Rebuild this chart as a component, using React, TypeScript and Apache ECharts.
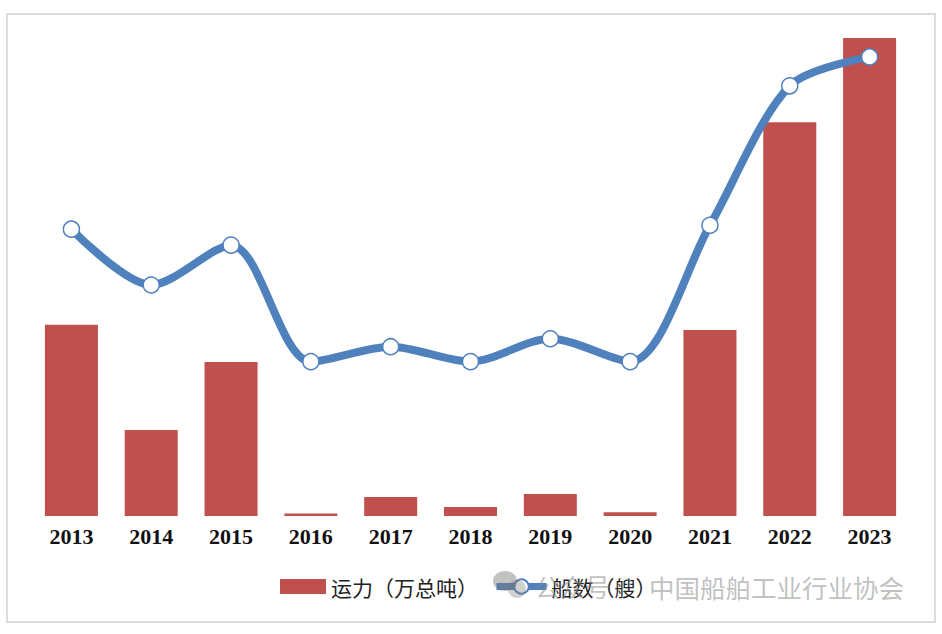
import React, { useEffect, useRef } from "react";
import * as echarts from "echarts";

const years = ["2013", "2014", "2015", "2016", "2017", "2018", "2019", "2020", "2021", "2022", "2023"];
const capacity = [400, 180, 322, 5, 40, 19, 46, 8, 389, 824, 1000];
const ships = [144, 116, 136, 77.5, 85, 77.5, 89, 77.5, 146, 216, 230.5];
const capacityName = "运力（万总吨）";
const shipsName = "船数（艘）";
const watermarkLeft = "公众号";
const watermarkRight = "中国船舶工业行业协会";

const cjk = '"Noto Sans CJK SC", sans-serif';

export default function App() {
  const ref = useRef<HTMLDivElement>(null);
  useEffect(() => {
    const chart = echarts.init(ref.current!, undefined, { renderer: "svg" });
    const legendText = { fontFamily: cjk, fontSize: 21, color: "#222" };
    chart.setOption({
      animation: false,
      backgroundColor: "#fff",
      grid: { left: 31.5, right: 32.5, top: 38, bottom: 118, containLabel: false },
      xAxis: {
        type: "category",
        data: years,
        axisTick: { show: false },
        axisLine: { show: false },
        axisLabel: {
          fontFamily: '"Liberation Serif", serif',
          fontWeight: "bold",
          fontSize: 22,
          color: "#111",
          margin: 9,
          interval: 0,
        },
      },
      yAxis: [
        { type: "value", min: 0, max: 1000, show: false, splitLine: { show: false } },
        { type: "value", min: 0, max: 240, show: false, splitLine: { show: false } },
      ],
      legend: [
        {
          left: 275,
          top: 571,
          itemWidth: 46,
          itemHeight: 15,
          textStyle: legendText,
          data: [{ name: capacityName, icon: "rect" }],
        },
        {
          left: 488,
          top: 571,
          itemWidth: 50,
          itemHeight: 18,
          textStyle: legendText,
          lineStyle: { width: 7 },
          data: [shipsName],
        },
      ],
      series: [
        {
          name: capacityName,
          type: "bar",
          data: capacity,
          barWidth: 53,
          itemStyle: { color: "#c0504d" },
          z: 1,
        },
        {
          name: shipsName,
          type: "line",
          yAxisIndex: 1,
          data: ships,
          smooth: 0.3,
          symbol: "circle",
          symbolSize: 16,
          lineStyle: { color: "#4f81bd", width: 8 },
          itemStyle: { color: "#fff", borderColor: "#4f81bd", borderWidth: 1.5 },
          z: 2,
        },
      ],
      graphic: [
        {
          type: "rect",
          shape: { x: 7, y: 14, width: 928, height: 608 },
          style: { fill: "none", stroke: "#dcdcdc", lineWidth: 2 },
          silent: true,
        },
        {
          type: "ellipse",
          shape: { cx: 505, cy: 581, rx: 12, ry: 10 },
          style: { fill: "rgba(120,120,120,0.45)" },
          z: 20,
        },
        {
          type: "ellipse",
          shape: { cx: 517, cy: 589, rx: 9, ry: 9 },
          style: { fill: "rgba(120,120,120,0.35)" },
          z: 20,
        },
        {
          type: "text",
          x: 535,
          y: 586,
          style: { text: watermarkLeft, fontFamily: cjk, fontSize: 25, fill: "rgba(140,140,140,0.55)", textVerticalAlign: "middle" },
          z: 20,
        },
        {
          type: "text",
          x: 649,
          y: 586,
          style: { text: watermarkRight, fontFamily: cjk, fontSize: 25.5, fill: "rgba(140,140,140,0.55)", textVerticalAlign: "middle" },
          z: 20,
        },
      ],
    });
    return () => chart.dispose();
  }, []);
  return <div ref={ref} style={{ position: "absolute", left: 0, top: 0, width: 942, height: 634 }} />;
}
